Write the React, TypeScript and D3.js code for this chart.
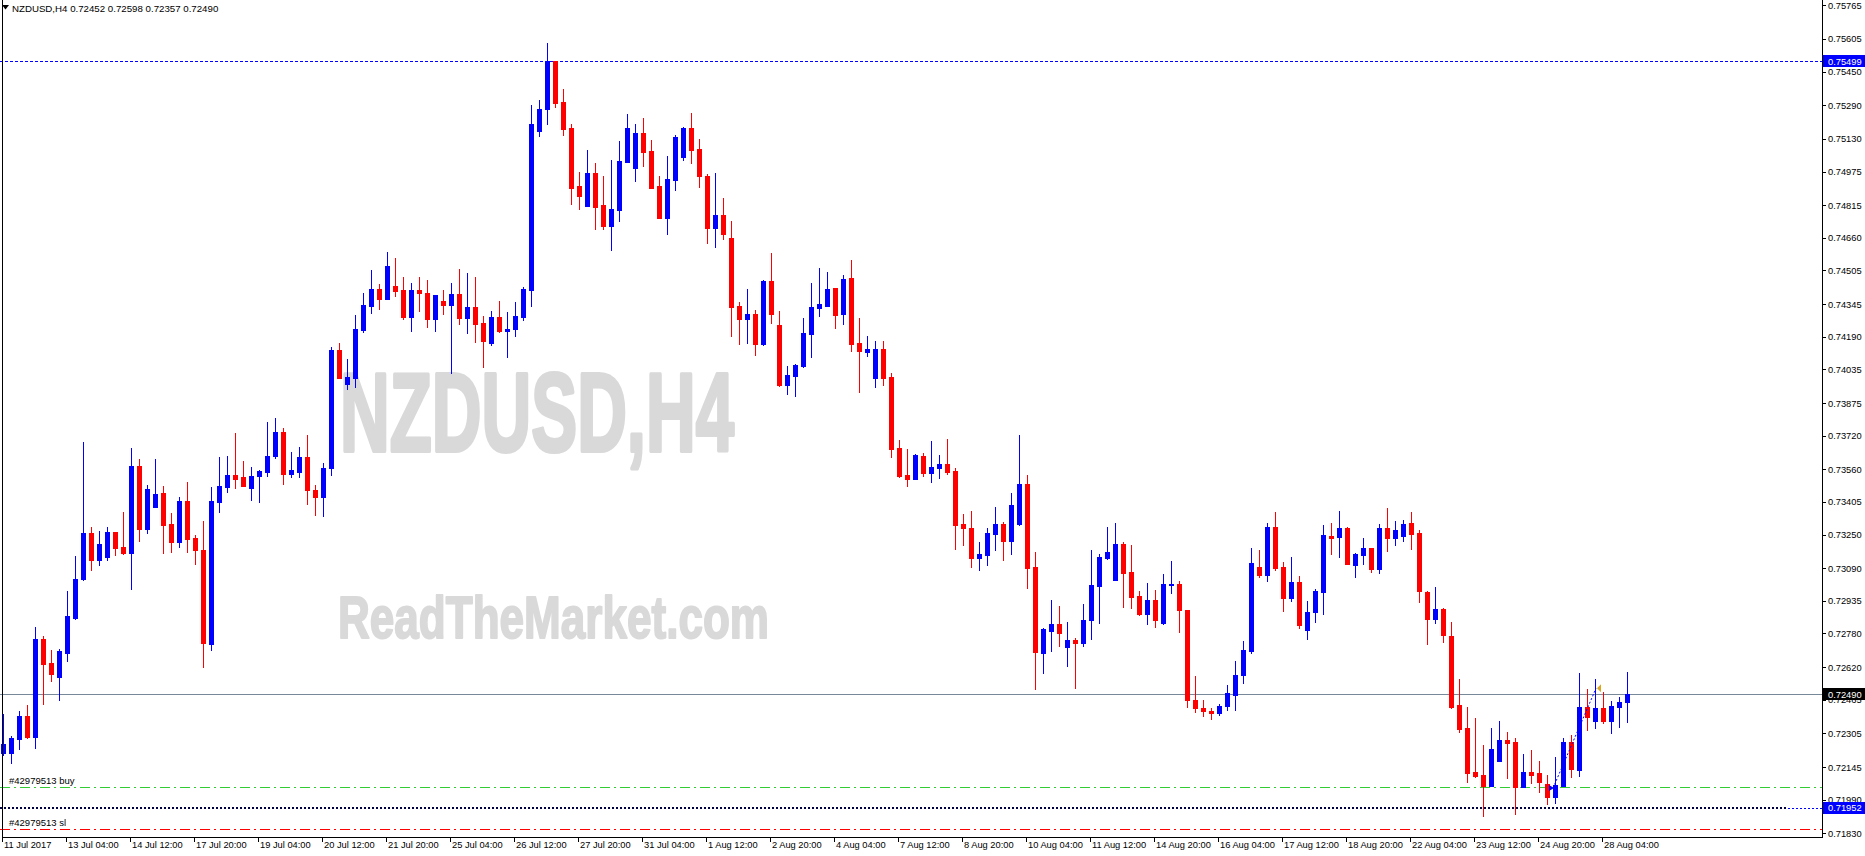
import React from 'react';
import * as d3 from 'd3';

const W = 1865;
const H = 856;

const symbolTitle = 'NZDUSD,H4';
const headerValues = ['0.72452', '0.72598', '0.72357', '0.72490'];
const watermark1 = 'NZDUSD,H4';
const watermark2 = 'ReadTheMarket.com';

const open = [
  0.72212,0.72212,0.72278,0.72389,0.72288,0.72753,0.72640,0.72573,0.72687,0.72854,
  0.73038,0.73257,0.73129,0.73143,0.73262,0.73191,0.73162,0.73576,0.73275,0.73381,
  0.73447,0.73300,0.73215,0.73409,0.73233,0.73176,0.72730,0.73405,0.73475,0.73532,
  0.73523,0.73470,0.73527,0.73547,0.73623,0.73737,0.73538,0.73547,0.73618,0.73461,
  0.73428,0.73566,0.74126,0.73964,0.73993,0.74221,0.74336,0.74416,0.74369,0.74431,
  0.74412,0.74284,0.74412,0.74398,0.74274,0.74359,0.74340,0.74393,0.74279,0.74331,
  0.74255,0.74160,0.74284,0.74216,0.74225,0.74284,0.74412,0.75167,0.75272,0.75500,
  0.75306,0.75181,0.74905,0.74812,0.74969,0.74817,0.74716,0.74792,0.75021,0.74993,
  0.75158,0.75073,0.74905,0.74754,0.74934,0.75044,0.75181,0.75082,0.74953,0.74706,
  0.74769,0.74659,0.74336,0.74274,0.74298,0.74155,0.74454,0.74245,0.73960,0.74003,
  0.74051,0.74202,0.74326,0.74336,0.74421,0.74298,0.74469,0.74160,0.74117,0.73993,
  0.74131,0.73998,0.73661,0.73532,0.73513,0.73623,0.73543,0.73566,0.73585,0.73552,
  0.73300,0.73280,0.73138,0.73152,0.73252,0.73300,0.73219,0.73300,0.73489,0.73096,
  0.72687,0.72791,0.72826,0.72715,0.72749,0.72735,0.72845,0.73005,0.73138,0.73033,
  0.73205,0.73072,0.72958,0.72873,0.72939,0.72830,0.73009,0.73014,0.72892,0.72464,
  0.72426,0.72412,0.72403,0.72436,0.72488,0.72582,0.72696,0.73096,0.73057,0.73285,
  0.73096,0.72948,0.73024,0.72796,0.72882,0.72977,0.73243,0.73238,0.73280,0.73105,
  0.73152,0.73186,0.73086,0.73280,0.73233,0.73243,0.73305,0.73257,0.72977,0.72849,
  0.72897,0.72768,0.72440,0.72330,0.72122,0.72108,0.72054,0.72174,0.72273,0.72264,
  0.72050,0.72122,0.72117,0.72064,0.72002,0.72054,0.72264,0.72131,0.72431,0.72364,
  0.72426,0.72364,0.72431,0.72452,
];
const high = [
  0.72398,0.72293,0.72412,0.72440,0.72810,0.72768,0.72701,0.72706,0.72981,0.73148,
  0.73690,0.73285,0.73266,0.73285,0.73262,0.73358,0.73661,0.73608,0.73484,0.73608,
  0.73480,0.73353,0.73428,0.73499,0.73247,0.73314,0.73475,0.73618,0.73623,0.73732,
  0.73599,0.73571,0.73557,0.73785,0.73804,0.73756,0.73642,0.73666,0.73722,0.73484,
  0.73590,0.74141,0.74160,0.74083,0.74293,0.74398,0.74508,0.74440,0.74593,0.74564,
  0.74474,0.74445,0.74474,0.74459,0.74388,0.74412,0.74445,0.74512,0.74494,0.74474,
  0.74289,0.74312,0.74359,0.74307,0.74355,0.74426,0.75291,0.75315,0.75586,0.75500,
  0.75366,0.75201,0.74974,0.75077,0.75016,0.74953,0.75030,0.75120,0.75249,0.75201,
  0.75230,0.75125,0.74953,0.75049,0.75148,0.75186,0.75254,0.75129,0.74964,0.74969,
  0.74849,0.74740,0.74355,0.74416,0.74317,0.74459,0.74588,0.74312,0.74051,0.74060,
  0.74279,0.74445,0.74517,0.74498,0.74421,0.74483,0.74555,0.74279,0.74192,0.74169,
  0.74169,0.74018,0.73699,0.73656,0.73632,0.73637,0.73694,0.73628,0.73704,0.73566,
  0.73348,0.73362,0.73215,0.73280,0.73381,0.73310,0.73447,0.73722,0.73532,0.73167,
  0.72806,0.72939,0.72911,0.72835,0.72758,0.72920,0.73176,0.73157,0.73285,0.73305,
  0.73215,0.73200,0.72981,0.73019,0.72986,0.73063,0.73124,0.73028,0.72892,0.72577,
  0.72464,0.72426,0.72445,0.72535,0.72649,0.72744,0.73186,0.73176,0.73305,0.73358,
  0.73119,0.73143,0.73052,0.72934,0.72991,0.73294,0.73305,0.73362,0.73285,0.73162,
  0.73233,0.73186,0.73300,0.73376,0.73314,0.73319,0.73358,0.73271,0.72981,0.73000,
  0.72901,0.72835,0.72563,0.72431,0.72379,0.72250,0.72330,0.72364,0.72312,0.72283,
  0.72207,0.72226,0.72174,0.72108,0.72193,0.72283,0.72297,0.72592,0.72516,0.72563,
  0.72501,0.72459,0.72478,0.72598,
];
const low = [
  0.72202,0.72165,0.72231,0.72283,0.72236,0.72445,0.72553,0.72464,0.72649,0.72849,
  0.73033,0.73082,0.73105,0.73129,0.73152,0.73157,0.72990,0.73219,0.73257,0.73381,
  0.73162,0.73167,0.73191,0.73167,0.73110,0.72621,0.72701,0.73358,0.73452,0.73470,
  0.73480,0.73414,0.73405,0.73527,0.73613,0.73489,0.73523,0.73523,0.73395,0.73343,
  0.73338,0.73532,0.73993,0.73941,0.73950,0.74211,0.74302,0.74321,0.74369,0.74383,
  0.74274,0.74216,0.74312,0.74235,0.74216,0.74298,0.74018,0.74250,0.74206,0.74165,
  0.74046,0.74151,0.74211,0.74093,0.74192,0.74269,0.74336,0.75143,0.75201,0.75282,
  0.75148,0.74821,0.74797,0.74812,0.74701,0.74701,0.74602,0.74740,0.75021,0.74930,
  0.75002,0.74896,0.74754,0.74678,0.74887,0.75030,0.75016,0.74901,0.74636,0.74617,
  0.74655,0.74192,0.74155,0.74160,0.74102,0.74151,0.74255,0.73955,0.73917,0.73908,
  0.74046,0.74093,0.74289,0.74336,0.74230,0.74250,0.74122,0.73927,0.74098,0.73950,
  0.73960,0.73618,0.73523,0.73480,0.73513,0.73527,0.73499,0.73518,0.73538,0.73181,
  0.73200,0.73096,0.73082,0.73105,0.73176,0.73129,0.73157,0.73294,0.72995,0.72516,
  0.72592,0.72696,0.72720,0.72626,0.72520,0.72720,0.72753,0.72830,0.73133,0.73033,
  0.72906,0.72901,0.72868,0.72826,0.72810,0.72826,0.72972,0.72787,0.72431,0.72407,
  0.72389,0.72375,0.72393,0.72416,0.72416,0.72544,0.72687,0.73048,0.73028,0.73082,
  0.72887,0.72934,0.72806,0.72753,0.72835,0.72873,0.73157,0.73143,0.73110,0.73048,
  0.73110,0.73072,0.73068,0.73171,0.73200,0.73219,0.73181,0.72930,0.72730,0.72830,
  0.72739,0.72426,0.72312,0.72074,0.72097,0.71912,0.72054,0.72174,0.72093,0.71922,
  0.72050,0.72069,0.72026,0.71969,0.71974,0.72054,0.72097,0.72102,0.72321,0.72330,
  0.72355,0.72307,0.72335,0.72357,
];
const close = [
  0.72255,0.72283,0.72389,0.72288,0.72753,0.72635,0.72588,0.72696,0.72864,0.73038,
  0.73257,0.73129,0.73205,0.73262,0.73186,0.73162,0.73576,0.73275,0.73465,0.73442,
  0.73294,0.73215,0.73409,0.73228,0.73176,0.72735,0.73409,0.73480,0.73532,0.73513,
  0.73480,0.73527,0.73552,0.73623,0.73737,0.73538,0.73557,0.73618,0.73461,0.73428,
  0.73566,0.74126,0.73993,0.73998,0.74225,0.74340,0.74416,0.74369,0.74527,0.74407,
  0.74284,0.74412,0.74398,0.74274,0.74388,0.74340,0.74393,0.74279,0.74331,0.74250,
  0.74170,0.74284,0.74216,0.74225,0.74289,0.74416,0.75201,0.75272,0.75500,0.75301,
  0.75177,0.74896,0.74858,0.74969,0.74807,0.74716,0.74797,0.75025,0.75181,0.75158,
  0.75068,0.74896,0.74754,0.74939,0.75139,0.75181,0.75077,0.74953,0.74706,0.74769,
  0.74678,0.74331,0.74274,0.74298,0.74155,0.74454,0.74298,0.73960,0.74007,0.74056,
  0.74206,0.74331,0.74345,0.74416,0.74293,0.74464,0.74155,0.74122,0.74131,0.74131,
  0.73993,0.73656,0.73527,0.73513,0.73628,0.73543,0.73571,0.73585,0.73547,0.73294,
  0.73280,0.73138,0.73157,0.73257,0.73300,0.73219,0.73390,0.73489,0.73091,0.72692,
  0.72801,0.72826,0.72782,0.72749,0.72735,0.72845,0.73009,0.73143,0.73167,0.73205,
  0.73068,0.72953,0.72873,0.72939,0.72845,0.73014,0.73014,0.72892,0.72464,0.72426,
  0.72412,0.72403,0.72436,0.72497,0.72582,0.72701,0.73115,0.73057,0.73285,0.73091,
  0.72948,0.73024,0.72820,0.72882,0.72981,0.73247,0.73233,0.73280,0.73110,0.73157,
  0.73186,0.73086,0.73280,0.73233,0.73271,0.73300,0.73252,0.72981,0.72849,0.72897,
  0.72773,0.72431,0.72326,0.72117,0.72102,0.72054,0.72231,0.72273,0.72259,0.72050,
  0.72122,0.72108,0.72074,0.72002,0.72059,0.72264,0.72136,0.72431,0.72384,0.72426,
  0.72364,0.72436,0.72452,0.72490,
];

const timeLabels = [
  '11 Jul 2017', '13 Jul 04:00', '14 Jul 12:00', '17 Jul 20:00', '19 Jul 04:00',
  '20 Jul 12:00', '21 Jul 20:00', '25 Jul 04:00', '26 Jul 12:00', '27 Jul 20:00',
  '31 Jul 04:00', '1 Aug 12:00', '2 Aug 20:00', '4 Aug 04:00', '7 Aug 12:00',
  '8 Aug 20:00', '10 Aug 04:00', '11 Aug 12:00', '14 Aug 20:00', '16 Aug 04:00',
  '17 Aug 12:00', '18 Aug 20:00', '22 Aug 04:00', '23 Aug 12:00', '24 Aug 20:00',
  '28 Aug 04:00',
];
const barsPerLabel = 8;

const priceTicks = [
  0.75765, 0.75605, 0.75450, 0.75290, 0.75130, 0.74975, 0.74815, 0.74660, 0.74505,
  0.74345, 0.74190, 0.74035, 0.73875, 0.73720, 0.73560, 0.73405, 0.73250, 0.73090,
  0.72935, 0.72780, 0.72620, 0.72465, 0.72305, 0.72145, 0.71990, 0.71830,
];

const tpLevel = 0.75499;
const bidLevel = 0.72490;
const buyLevel = 0.72050;
const openLevel = 0.71952;
const slLevel = 0.71850;
const orderLabelBuy = '#42979513 buy';
const orderLabelSl = '#42979513 sl';
const tradeBars = [194, 199];
const tradePrices = [0.72045, 0.72519];

const FONT = '"Liberation Sans", Arial, sans-serif';

export default function App() {
  const n = open.length;
  const x = d3.scaleLinear().domain([0, n - 1]).range([3, 3 + 8 * (n - 1)]);
  const y = d3.scaleLinear().domain([0.71808, 0.7579]).range([838, 0]);
  const plotRight = 1822;
  const plotBottom = 837;
  const fmt = d3.format('.5f');

  const candles = open.map((o, i) => {
    const c = close[i];
    const up = c >= o;
    const col = up ? '#0000ff' : '#ff0000';
    const cx = Math.round(x(i));
    const yt = Math.round(y(Math.max(o, c)));
    const yb = Math.round(y(Math.min(o, c)));
    const yh = Math.round(y(high[i]));
    const yl = Math.round(y(low[i]));
    return (
      <g key={i}>
        <rect x={cx} y={yh} width={1} height={Math.max(1, yl - yh + 1)} fill={col} />
        <rect x={cx - 2} y={yt} width={5} height={Math.max(1, yb - yt + 1)} fill={col} />
      </g>
    );
  });

  const lvl = (v: number) => Math.round(y(v)) + 0.5;

  const ex = x(tradeBars[0]) - 2;
  const ey = y(tradePrices[0]);
  const xx = x(tradeBars[1]) + 1;
  const xy = y(tradePrices[1]);

  return (
    <svg
      width={W}
      height={H}
      style={{ position: 'absolute', left: 0, top: 0, display: 'block', background: '#ffffff' }}
      fontFamily={FONT}
    >
      <rect x={0} y={0} width={W} height={H} fill="#ffffff" />

      {/* watermarks */}
      <text x={340} y={451} fontSize={112} fontWeight="bold" fill="#d9d9d9" stroke="#d9d9d9"
        strokeWidth={4} strokeLinejoin="round"
        textLength={394} lengthAdjust="spacingAndGlyphs">{watermark1}</text>
      <text x={338} y={638} fontSize={59} fontWeight="bold" fill="#d9d9d9" stroke="#d9d9d9"
        strokeWidth={2} strokeLinejoin="round"
        textLength={431} lengthAdjust="spacingAndGlyphs">{watermark2}</text>

      {/* level lines */}
      <line x1={0} x2={plotRight} y1={lvl(tpLevel)} y2={lvl(tpLevel)} stroke="#0000ff" strokeWidth={1} strokeDasharray="3,2" />
      <line x1={0} x2={plotRight} y1={lvl(bidLevel)} y2={lvl(bidLevel)} stroke="#778899" strokeWidth={1} />
      <line x1={0} x2={plotRight} y1={lvl(buyLevel)} y2={lvl(buyLevel)} stroke="#32cd32" strokeWidth={1} strokeDasharray="10,4,2,4" />
      <line x1={0} x2={plotRight} y1={lvl(slLevel)} y2={lvl(slLevel)} stroke="#ff0000" strokeWidth={1} strokeDasharray="10,4,2,4" />
      <line x1={0} x2={plotRight} y1={lvl(openLevel)} y2={lvl(openLevel)} stroke="#0000ff" strokeWidth={1} strokeDasharray="2,2" />
      <line x1={0} x2={1787} y1={Math.round(y(openLevel))} y2={Math.round(y(openLevel))} stroke="#000040" strokeWidth={2} strokeDasharray="2,2" />

      <text x={9} y={y(buyLevel) - 3} fontSize={9.5} fill="#000000">{orderLabelBuy}</text>
      <text x={9} y={y(slLevel) - 3} fontSize={9.5} fill="#000000">{orderLabelSl}</text>

      {candles}

      {/* trade arrow */}
      <line x1={ex} y1={ey} x2={xx} y2={xy} stroke="#0000ff" strokeWidth={1} strokeDasharray="2,2" />
      <path d={`M${ex - 4},${ey + 3} L${ex + 1},${ey} L${ex - 4},${ey - 3} Z`} fill="#0000ff" />
      <path d={`M${xx + 1},${xy} L${xx + 5},${xy - 4} L${xx + 5},${xy + 4} Z`} fill="#daa520" />

      {/* frame */}
      <line x1={2.5} x2={2.5} y1={0} y2={plotBottom} stroke="#000" strokeWidth={1} />
      <line x1={plotRight + 0.5} x2={plotRight + 0.5} y1={0} y2={plotBottom + 0.5} stroke="#000" strokeWidth={1} />
      <line x1={2} x2={plotRight + 1} y1={plotBottom + 0.5} y2={plotBottom + 0.5} stroke="#000" strokeWidth={1} />

      {/* price axis */}
      {priceTicks.map((v) => (
        <g key={v}>
          <line x1={plotRight + 1} x2={plotRight + 4} y1={lvl(v)} y2={lvl(v)} stroke="#000" />
          <text x={1828} y={y(v) + 3.5} fontSize={9.3} fill="#000">{fmt(v)}</text>
        </g>
      ))}

      {/* level tags */}
      {[
        { v: tpLevel, bg: '#0000ff' },
        { v: bidLevel, bg: '#000000' },
        { v: openLevel, bg: '#0000ff' },
      ].map((t) => (
        <g key={t.v}>
          <rect x={1823} y={Math.round(y(t.v)) - 6} width={42} height={12} fill={t.bg} />
          <text x={1828} y={y(t.v) + 3.5} fontSize={9.3} fill="#ffffff">{fmt(t.v)}</text>
        </g>
      ))}

      {/* time axis */}
      {timeLabels.map((lab, k) => {
        const tx = Math.round(x(k * barsPerLabel)) - 0.5;
        return (
          <g key={lab}>
            <line x1={tx} x2={tx} y1={plotBottom} y2={plotBottom + 5} stroke="#000" />
            <text x={tx + 1.5} y={848} fontSize={9.3} fill="#000">{lab}</text>
          </g>
        );
      })}

      {/* header */}
      <path d="M2,5 L9,5 L5.5,9.5 Z" fill="#000" />
      <text x={12} y={12} fontSize={9.7} fill="#000">
        {symbolTitle + '  ' + headerValues.join(' ')}
      </text>
    </svg>
  );
}
